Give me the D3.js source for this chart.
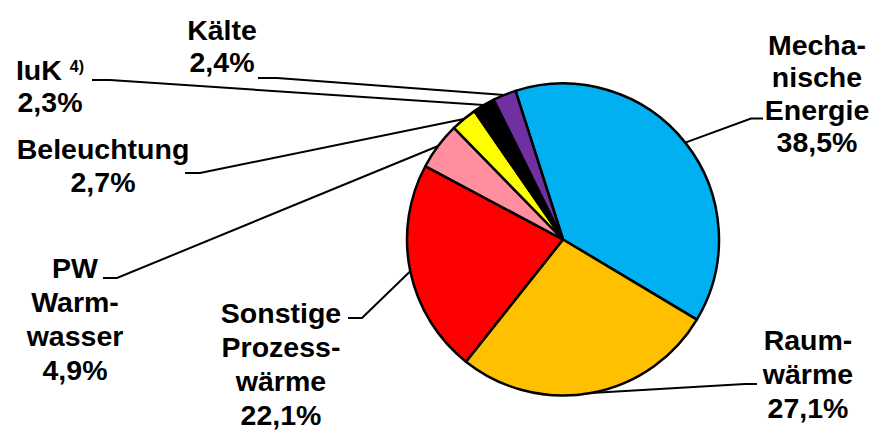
<!DOCTYPE html>
<html>
<head>
<meta charset="utf-8">
<script src="https://cdn.jsdelivr.net/npm/d3@7"></script>
<style>
  body { margin: 0; background: #fff; }
  .lbl { font-family: "Liberation Sans", Arial, sans-serif; font-weight: bold; font-size: 28.5px; fill: #000; }
</style>
</head>
<body>
<div class="mainContainer"></div>
<script>
// data, clockwise from the top
var categories = ["Mechanische Energie", "Raumwärme", "Sonstige Prozesswärme", "PW Warmwasser", "Beleuchtung", "IuK", "Kälte"];
var values = [38.5, 27.1, 22.1, 4.9, 2.7, 2.3, 2.4];
var labelLines = [["Mecha-", "nische", "Energie"], ["Raum-", "wärme"], ["Sonstige", "Prozess-", "wärme"], ["PW", "Warm-", "wasser"], ["Beleuchtung"], ["IuK"], ["Kälte"]];
var footnotes = ["", "", "", "", "", "4)", ""];

var colors = ["#00b0f0", "#ffc000", "#ff0000", "#ff8f9f", "#ffff00", "#000000", "#7030a0"];

// label placement: text centre x, first baseline, line height, leader start x/y, elbow x
var layout = [
	{x: 817, y: 55, lh: 32.3, lx: 763, ly: 118.5, ex: 751},
	{x: 808, y: 350, lh: 34, lx: 757, ly: 384, ex: 745},
	{x: 281, y: 323, lh: 34, lx: 348, ly: 318, ex: 362},
	{x: 75, y: 278, lh: 33.9, lx: 103, ly: 278, ex: 117},
	{x: 103, y: 158.5, lh: 33.3, lx: 185, ly: 173, ex: 200},
	{x: 50, y: 80, lh: 32, lx: 92, ly: 80, ex: 110},
	{x: 222, y: 40, lh: 32, lx: 258, ly: 78, ex: 277}
];

var width = 872, height = 430;
var cx = 563, cy = 239.5, radius = 156;
var startAngle = -17.7 * Math.PI / 180;

var svg = d3.select('.mainContainer').append('svg').attr('width', width).attr('height', height);

var pie = d3.pie().sort(null).value(function(d) { return d; })
	.startAngle(startAngle).endAngle(startAngle + 2 * Math.PI);
var arcs = pie(values);
var arc = d3.arc().innerRadius(0).outerRadius(radius);

var g = svg.append('g').attr('transform', 'translate(' + cx + ',' + cy + ')');

// leader lines first, pie on top
arcs.forEach(function(a, i) {
	var mid = (a.startAngle + a.endAngle) / 2;
	var px = cx + radius * Math.sin(mid), py = cy - radius * Math.cos(mid);
	var L = layout[i];
	svg.append('polyline')
		.attr('points', [[L.lx, L.ly], [L.ex, L.ly], [px, py]].map(function(p) { return p.join(','); }).join(' '))
		.style('fill', 'none').style('stroke', '#000').style('stroke-width', 2);
});

g.selectAll('path').data(arcs).enter().append('path')
	.attr('d', arc)
	.style('fill', function(d, i) { return colors[i]; })
	.style('stroke', '#000').style('stroke-width', 2.5).style('stroke-linejoin', 'round');

// labels
arcs.forEach(function(a, i) {
	var L = layout[i];
	var lines = labelLines[i].concat([String(values[i]).replace('.', ',') + '%']);
	lines.forEach(function(t, j) {
		var txt = svg.append('text').attr('class', 'lbl').attr('x', L.x).attr('y', L.y + j * L.lh).attr('text-anchor', 'middle');
		txt.append('tspan').text(t);
		if (j === 0 && footnotes[i]) {
			txt.append('tspan').text('\u00a0');
			txt.append('tspan').attr('dy', -8).style('font-size', '16px').text(footnotes[i]);
		}
	});
});
</script>
</body>
</html>
